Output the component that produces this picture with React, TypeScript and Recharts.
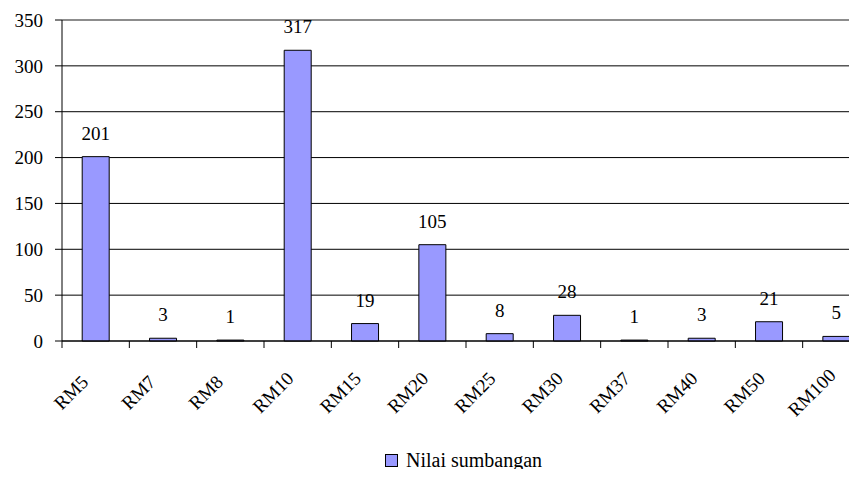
import React from "react"
import { Bar, BarChart, CartesianGrid, LabelList, Legend, ReferenceLine, XAxis, YAxis } from "recharts"

const categories = ["RM5", "RM7", "RM8", "RM10", "RM15", "RM20", "RM25", "RM30", "RM37", "RM40", "RM50", "RM100"]
const values = [201, 3, 1, 317, 19, 105, 8, 28, 1, 3, 21, 5]
const yTicks = [0, 50, 100, 150, 200, 250, 300, 350]
const seriesName = "Nilai sumbangan"

const data = categories.map((name, i) => ({ name, value: values[i] }))

const font = "Liberation Serif, Times New Roman, serif"

function CategoryTick({ x, y, payload, index }: any) {
  const half = payload.offset ?? 33.6
  const lx = x - 20
  const ly = y + 56
  return (
    <g>
      <line x1={x - half} x2={x - half} y1={y} y2={y + 7} stroke="#000" />
      {index === categories.length - 1 && <line x1={x + half} x2={x + half} y1={y} y2={y + 7} stroke="#000" />}
      <text x={lx} y={ly} transform={`rotate(-45, ${lx}, ${ly})`} textAnchor="middle" fontFamily={font} fontSize={19} fill="#000">
        {payload.value}
      </text>
    </g>
  )
}

function LegendBox() {
  return (
    <div style={{ display: "flex", alignItems: "center", fontFamily: font, fontSize: 20, lineHeight: "20px", color: "#000", whiteSpace: "nowrap" }}>
      <span style={{ display: "inline-block", width: 11, height: 11, background: "#9999FF", border: "1px solid #000", marginRight: 8 }} />
      {seriesName}
    </div>
  )
}

export default function App() {
  return (
    <div style={{ margin: -8, width: 857, height: 477, overflow: "hidden", background: "#fff" }}>
      <BarChart width={870} height={477} data={data} margin={{ top: 20, right: 0, left: 0, bottom: 0 }} barCategoryGap="30%">
        <CartesianGrid vertical={false} stroke="#000" />
        <XAxis
          dataKey="name"
          height={136}
          stroke="#000"
          tickLine={false}
          tickSize={0}
          tickMargin={0}
          interval={0}
          tick={<CategoryTick />}
        />
        <YAxis
          domain={[0, 350]}
          ticks={yTicks}
          width={62}
          tickSize={7}
          tickMargin={12}
          stroke="#000"
          tick={{ fill: "#000", fontSize: 19, fontFamily: font }}
        />
        <ReferenceLine y={350} stroke="#999" />
        <Legend
          layout="horizontal"
          verticalAlign="middle"
          align="center"
          wrapperStyle={{ top: 450, left: 385, width: "auto" }}
          content={<LegendBox />}
        />
        <Bar dataKey="value" name={seriesName} fill="#9999FF" stroke="#000" strokeWidth={1} isAnimationActive={false}>
          <LabelList dataKey="value" position="top" offset={17} fill="#000" fontSize={19} fontFamily={font} />
        </Bar>
      </BarChart>
    </div>
  )
}
